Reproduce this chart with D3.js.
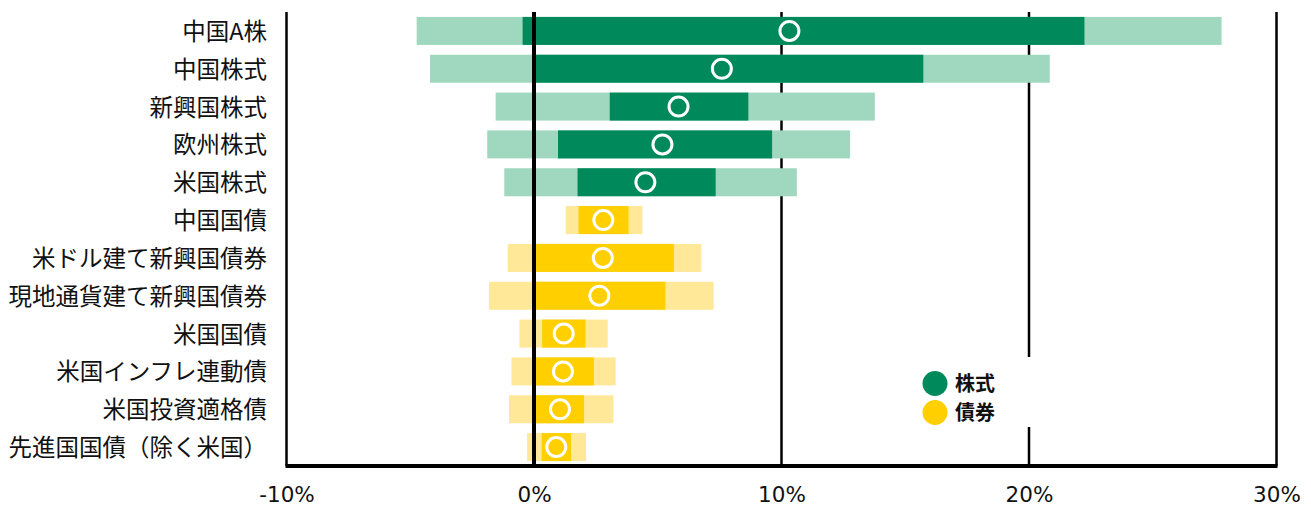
<!DOCTYPE html>
<html>
<head>
<meta charset="utf-8">
<script src="https://cdn.jsdelivr.net/npm/d3@7"></script>
<style>
html,body{margin:0;padding:0;background:#fff;}
svg{display:block;}
</style>
</head>
<body>
<svg id="chart" width="1311" height="508"></svg>
<script>
// ---- data ----
const categories = ["中国A株","中国株式","新興国株式","欧州株式","米国株式","中国国債","米ドル建て新興国債券","現地通貨建て新興国債券","米国国債","米国インフレ連動債","米国投資適格債","先進国国債（除く米国）"];
const assetClass = ["株式","株式","株式","株式","株式","債券","債券","債券","債券","債券","債券","債券"];
const lowOuter  = [-4.74, -4.2, -1.55, -1.89, -1.2, 1.28, -1.06, -1.82, -0.59, -0.91, -1.01, -0.28];
const lowInner  = [-0.46, 0.0, 3.06, 0.97, 1.76, 1.8, 0.0, 0.0, 0.33, 0.0, 0.0, 0.31];
const highInner = [22.24, 15.73, 8.66, 9.62, 7.34, 3.82, 5.65, 5.31, 2.08, 2.42, 2.02, 1.5];
const highOuter = [27.78, 20.84, 13.77, 12.77, 10.62, 4.38, 6.76, 7.26, 2.98, 3.3, 3.21, 2.1];
const expected  = [10.32, 7.59, 5.84, 5.19, 4.5, 2.8, 2.78, 2.64, 1.2, 1.17, 1.05, 0.9];
const xTicks = [-10, 0, 10, 20, 30];
const legendItems = ["株式","債券"];

const darkColor = {"株式":"#008a5b","債券":"#ffcf00"};
const lightColor = {"株式":"#9fd8bf","債券":"#ffe898"};

const rows = categories.map((c,i)=>({cat:c, cls:assetClass[i], lo:lowOuter[i], li:lowInner[i], hi:highInner[i], ho:highOuter[i], e:expected[i]}));

const svg = d3.select("#chart");
const pLeft = 286.5, pRight = 1276.5, pTop = 12, pBottom = 466;

const x = d3.scaleLinear().domain([-10, 30]).range([pLeft, pRight]);
const y = d3.scaleBand().domain(categories).range([pTop, pBottom]).paddingInner(0.26).paddingOuter(0.13);

// gridlines (behind bars)
svg.append("g").selectAll("line").data(xTicks.filter(t=>t!==0 && t!==-10)).join("line")
  .attr("x1", d=>x(d)).attr("x2", d=>x(d)).attr("y1", pTop).attr("y2", pBottom)
  .attr("stroke", "#000").attr("stroke-width", 2.5);

// outer (light) bars
svg.append("g").selectAll("rect").data(rows).join("rect")
  .attr("x", d=>x(d.lo)).attr("width", d=>x(d.ho)-x(d.lo))
  .attr("y", d=>y(d.cat)).attr("height", y.bandwidth())
  .attr("fill", d=>lightColor[d.cls]);

// inner (dark) bars
svg.append("g").selectAll("rect").data(rows).join("rect")
  .attr("x", d=>x(d.li)).attr("width", d=>x(d.hi)-x(d.li))
  .attr("y", d=>y(d.cat)).attr("height", y.bandwidth())
  .attr("fill", d=>darkColor[d.cls]);

// zero line on top
svg.append("line").attr("x1", x(0)).attr("x2", x(0)).attr("y1", pTop).attr("y2", pBottom)
  .attr("stroke", "#000").attr("stroke-width", 4);

// expected markers
svg.append("g").selectAll("circle").data(rows).join("circle")
  .attr("cx", d=>x(d.e)).attr("cy", d=>y(d.cat)+y.bandwidth()/2)
  .attr("r", 9.5).attr("fill", "none").attr("stroke", "#fff").attr("stroke-width", 3);

// left axis line
svg.append("line").attr("x1", pLeft).attr("x2", pLeft).attr("y1", pTop).attr("y2", pBottom)
  .attr("stroke", "#000").attr("stroke-width", 2.5);

// bottom axis
const xAxis = d3.axisBottom(x).tickValues(xTicks).tickFormat(d=>d+"%").tickSize(0).tickPadding(22);
const gx = svg.append("g").attr("transform", `translate(0,${pBottom})`).call(xAxis);
gx.select(".domain").attr("stroke", "#000").attr("stroke-width", 4).attr("d", `M${pLeft-1},0H${pRight+1}`);
gx.selectAll("text").attr("font-family", "'DejaVu Sans', sans-serif").attr("font-size", 21.5).attr("fill", "#111")
  .attr("dy", "0.35em").attr("y", 28.5);

// category labels
const yAxis = d3.axisLeft(y).tickSize(0).tickPadding(19.5);
const gy = svg.append("g").attr("transform", `translate(${pLeft},0)`).call(yAxis);
gy.select(".domain").remove();
gy.selectAll("text").attr("font-family", "'Noto Sans CJK JP', sans-serif").attr("font-size", 23.5).attr("fill", "#111")
  .attr("dy", "0.38em");

// legend
const lg = svg.append("g");
lg.append("rect").attr("x", 912).attr("y", 357).attr("width", 130).attr("height", 70).attr("fill", "#fff");
const li = lg.selectAll("g.item").data(legendItems).join("g").attr("class","item")
  .attr("transform", (d,i)=>`translate(935,${383.5 + i*29})`);
li.append("circle").attr("r", 12.5).attr("fill", d=>darkColor[d]);
li.append("text").attr("x", 20).attr("dy", "0.36em").text(d=>d)
  .attr("font-family", "'Noto Sans CJK JP', sans-serif").attr("font-weight", "bold").attr("font-size", 20).attr("fill", "#111");
</script>
</body>
</html>
